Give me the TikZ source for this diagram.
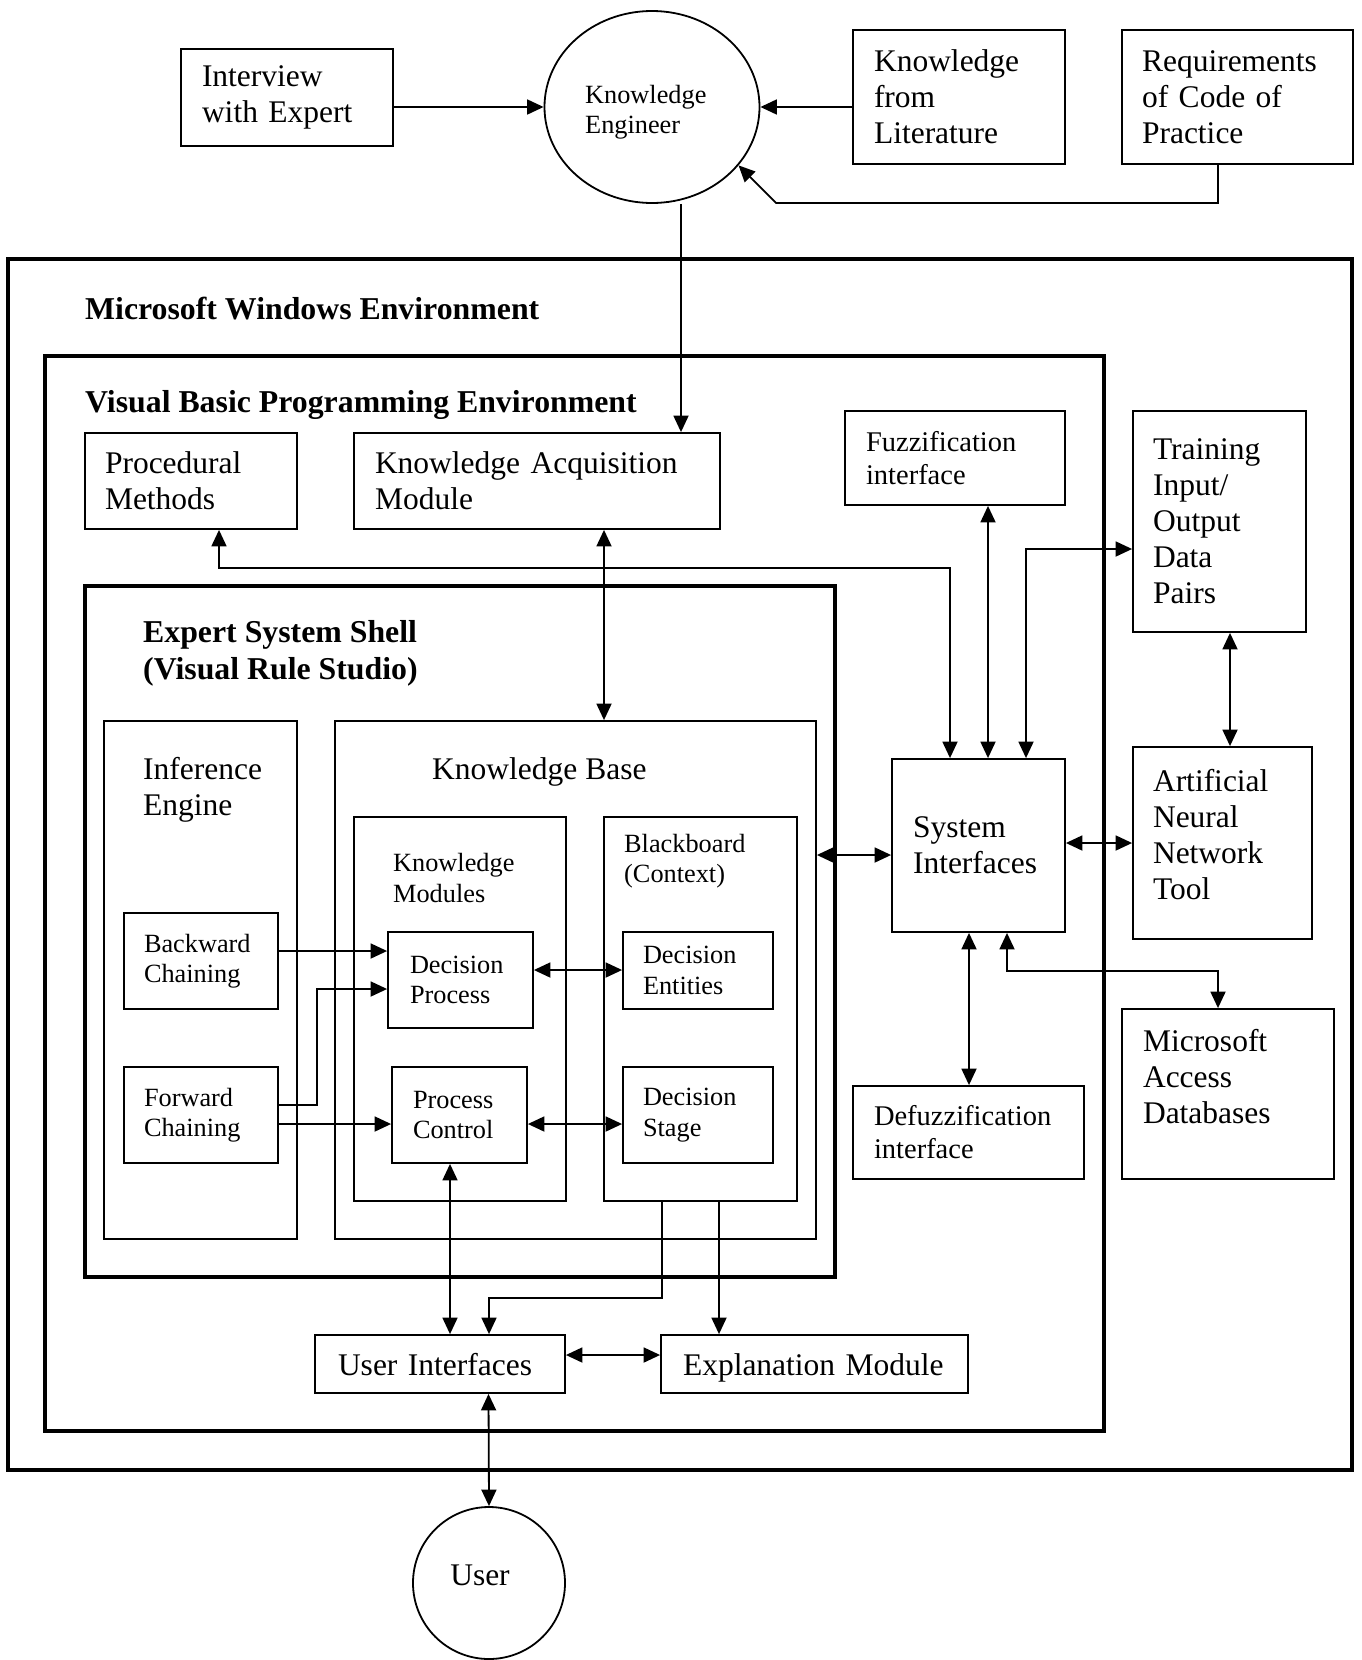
\documentclass[tikz,border=0pt]{standalone}
\usepackage{fontspec}
\setmainfont{Liberation Serif}
\usetikzlibrary{positioning,arrows.meta,shapes.geometric}

\tikzset{
big/.style={font=\fontsize{31.5}{36}\selectfont},
mid/.style={font=\fontsize{28.5}{33}\selectfont},
sml/.style={font=\fontsize{26.3}{30.5}\selectfont},
hdr/.style={font=\fontsize{31.8}{37}\selectfont\bfseries, anchor=west, align=left, inner sep=0pt},
lbl/.style={anchor=west, align=left, inner sep=0pt},
blk/.style n args={4}{draw, line width=1.8pt, align=left, inner ysep=0pt, minimum width=#1pt, minimum height=#2pt, inner xsep=#3pt, text width=#4pt},
frame/.style n args={2}{draw, line width=4.5pt, minimum width=#1pt, minimum height=#2pt, inner sep=0pt},
cnt/.style n args={2}{draw, line width=1.8pt, minimum width=#1pt, minimum height=#2pt, inner sep=0pt},
link/.style={line width=1.8pt}
}

\begin{document}
\begin{tikzpicture}[x=1pt, y=-1pt, >={Triangle[length=16.5pt,width=15pt]}]
\useasboundingbox (0,0) rectangle (1362,1660);

% environments
\node[frame={1344}{1211}] (win) at (680,864.5) {};
\node[frame={1059}{1075}] (vb) at (574.5,893.5) {};
\node[frame={750}{691}] (ess) at (460,931.5) {};
\node[hdr] (winlbl) at (85,309) {Microsoft Windows Environment};
\node[hdr] (vblbl) at (85,405) {Visual Basic Programming Environment};
\node[hdr] (esslbl) at (143,653.5) {Expert System Shell\\(Visual Rule Studio)};

% top row
\node[blk={212}{97}{21}{170}, big] (iv) at (287,97.5) {Interview\\with Expert};
\node[draw, ellipse, line width=1.8pt, minimum width=215pt, minimum height=192pt, inner sep=0pt] (ke) at (652,107) {};
\node[lbl, sml] (kelbl) at (585,112) {Knowledge\\Engineer};
\node[blk={212}{134}{21}{170}, big] (lit) at (959,97) {Knowledge\\from\\Literature};
\node[blk={231}{134}{20}{191}, big] (req) at (1237.5,97) {Requirements\\of Code of\\Practice};

% visual basic level
\node[blk={212}{96}{20}{172}, big] (pm) at (191,481) {Procedural\\Methods};
\node[blk={366}{96}{21}{324}, big] (ka) at (537,481) {Knowledge Acquisition\\Module};
\node[blk={220}{94}{21}{178}, mid] (fz) at (955,458) {Fuzzification\\interface};
\node[blk={173}{221}{20}{133}, big] (trn) at (1219.5,521.5) {Training\\Input/\\Output\\Data\\Pairs};
\node[blk={179}{192}{20}{139}, big] (ann) at (1222.5,843) {Artificial\\Neural\\Network\\Tool\\[-18pt]\mbox{}};
\node[blk={173}{173}{21}{131}, big] (si) at (978.5,845.5) {System\\Interfaces};
\node[blk={231}{93}{21}{189}, mid] (dfz) at (968.5,1132.5) {Defuzzification\\interface};
\node[blk={212}{170}{21}{170}, big] (msa) at (1228,1094) {Microsoft\\Access\\Databases\\\mbox{}};

% expert system shell
\node[cnt={193}{518}] (ie) at (200.5,980) {};
\node[lbl, big] (ielbl) at (143,790) {Inference\\Engine};
\node[cnt={481}{518}] (kb) at (575.5,980) {};
\node[lbl, big] (kblbl) at (432,772) {Knowledge Base};
\node[cnt={212}{384}] (km) at (460,1009) {};
\node[lbl, sml] (kmlbl) at (393,878) {Knowledge\\Modules};
\node[cnt={193}{384}] (bb) at (700.5,1009) {};
\node[lbl, sml] (bblbl) at (624,861) {Blackboard\\(Context)};

\node[blk={154}{96}{20}{114}, sml] (bc) at (201,961) {Backward\\Chaining};
\node[blk={154}{96}{20}{114}, sml] (fc) at (201,1115) {Forward\\Chaining};
\node[blk={145}{96}{22}{101}, sml] (dp) at (460.5,980) {Decision\\Process};
\node[blk={135}{96}{21}{93}, sml] (pc) at (459.5,1115) {Process\\Control};
\node[blk={150}{77}{20}{110}, sml] (de) at (698,970.5) {Decision\\Entities};
\node[blk={150}{96}{20}{110}, sml] (ds) at (698,1115) {Decision\\Stage};

% bottom
\node[blk={250}{58}{23}{204}, big, text height=25pt, text depth=3pt] (ui) at (440,1364) {User Interfaces};
\node[blk={307}{58}{22}{263}, big, text height=25pt, text depth=3pt] (exm) at (814.5,1364) {Explanation Module};
\node[draw, circle, line width=1.8pt, minimum size=152pt, inner sep=0pt] (usr) at (489,1583) {};
\node[big, inner sep=0pt] (usrlbl) at (480,1575) {User};

% knowledge engineer inputs
\draw[link,->] (iv.east |- ke.west) -- (ke.west);
\draw[link,->] (lit.west |- ke.east) -- (ke.east);
\draw[link,->] ([xshift=-19.5pt]req.south) -- ++(0,38) -- ++(-442,0) -- (ke.-34);
\draw[link,->] ([xshift=29pt]ke.south) -- ([xshift=144pt]ka.north);

% system interfaces
\draw[link,<->] ([xshift=28pt]pm.south) -- ++(0,38) -| ([xshift=-28.5pt]si.north);
\draw[link,<->] ([xshift=33pt]fz.south) -- ([xshift=9.5pt]si.north);
\draw[link,<->] ([xshift=47.5pt]si.north) |- ([yshift=-27.5pt]trn.west);
\draw[link,<->] ([xshift=10.5pt]trn.south) -- ([xshift=10.5pt]trn.south |- ann.north);
\draw[link,<->] ([yshift=2.5pt]si.east) -- ([yshift=2.5pt]si.east -| ann.west);
\draw[link,<->] ([yshift=-9.5pt]si.west) -- ([yshift=-9.5pt]si.west -| kb.east);
\draw[link,<->] ([xshift=-9.5pt]si.south) -- ([xshift=-9.5pt]si.south |- dfz.north);
\draw[link,<->] ([xshift=28.5pt]si.south) -- ++(0,38) -| ([xshift=-10pt]msa.north);
\draw[link,<->] ([xshift=67pt]ka.south) -- ([xshift=67pt]ka.south |- kb.north);

% inside the shell
\draw[link,->] ([yshift=10pt]bc.east) -- ([yshift=10pt]bc.east -| dp.west);
\draw[link,->] ([yshift=10pt]fc.east) -- ++(38,0) |- ([yshift=-9pt]dp.west);
\draw[link,->] ([yshift=-9pt]fc.east) -- ([yshift=-9pt]fc.east -| pc.west);
\draw[link,<->] ([yshift=10pt]dp.east) -- ([yshift=10pt]dp.east -| de.west);
\draw[link,<->] ([yshift=-9pt]pc.east) -- ([yshift=-9pt]pc.east -| ds.west);

% to the user side
\draw[link,<->] ([xshift=-9.5pt]pc.south) -- ([xshift=-9.5pt]pc.south |- ui.north);
\draw[link,->] ([xshift=-38.5pt]bb.south) -- ++(0,96) -| ([xshift=49pt]ui.north);
\draw[link,->] ([xshift=18.5pt]bb.south) -- ([xshift=18.5pt]bb.south |- exm.north);
\draw[link,<->] ([yshift=9pt]ui.east) -- ([yshift=9pt]ui.east -| exm.west);
\draw[link,<->] ([xshift=48.5pt]ui.south) -- (usr.north);
\end{tikzpicture}
\end{document}
